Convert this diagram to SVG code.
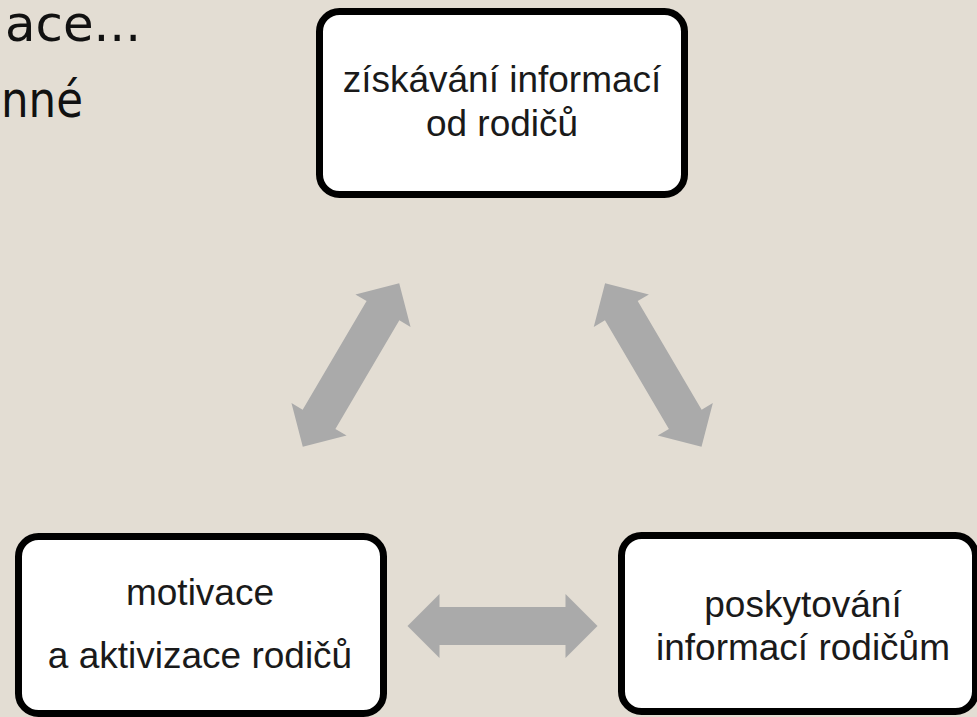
<svg xmlns="http://www.w3.org/2000/svg" width="977" height="717" viewBox="0 0 977 717">
  <defs>
    <style>
      .bg { fill: #e3ddd3; }
      .box { fill: #ffffff; stroke: #000000; stroke-width: 7; }
      .lbl { font-family: "Liberation Sans", Arial, sans-serif; font-size: 37px; fill: #1a1a1a; text-anchor: middle; }
      .side { font-family: "DejaVu Sans", "Liberation Sans", sans-serif; font-size: 50px; fill: #111111; }
      .arrow { fill: #aaaaaa; }
    </style>
    <path id="dbl" d="M -95 0 L -63 -32 L -63 -19 L 63 -19 L 63 -32 L 95 0 L 63 32 L 63 19 L -63 19 L -63 32 Z"/>
  </defs>
  <rect class="bg" x="0" y="0" width="977" height="717"/>

  <g id="side-text">
    <text class="side" x="5" y="41" font-size="40" textLength="136" lengthAdjust="spacingAndGlyphs">ace...</text>
    <text class="side" x="1" y="117" textLength="82" lengthAdjust="spacingAndGlyphs">nné</text>
  </g>

  <g id="connectors">
    <use href="#dbl" class="arrow" transform="translate(351,365) rotate(-59.5)"/>
    <use href="#dbl" class="arrow" transform="translate(653.3,365) rotate(59.5)"/>
    <use href="#dbl" class="arrow" transform="translate(502.5,626)"/>
  </g>

  <g id="node-ziskavani">
    <rect class="box" x="319.5" y="11.5" width="365" height="183" rx="20" ry="20"/>
    <text class="lbl" x="502" y="92">získávání informací</text>
    <text class="lbl" x="502" y="136">od rodičů</text>
  </g>

  <g id="node-motivace">
    <rect class="box" x="18.5" y="536.5" width="365" height="177" rx="20" ry="20"/>
    <text class="lbl" x="200" y="605">motivace</text>
    <text class="lbl" x="200" y="668">a aktivizace rodičů</text>
  </g>

  <g id="node-poskytovani">
    <rect class="box" x="621.5" y="535.5" width="354" height="176" rx="20" ry="20"/>
    <text class="lbl" x="803" y="617">poskytování</text>
    <text class="lbl" x="803" y="660">informací rodičům</text>
  </g>
</svg>
